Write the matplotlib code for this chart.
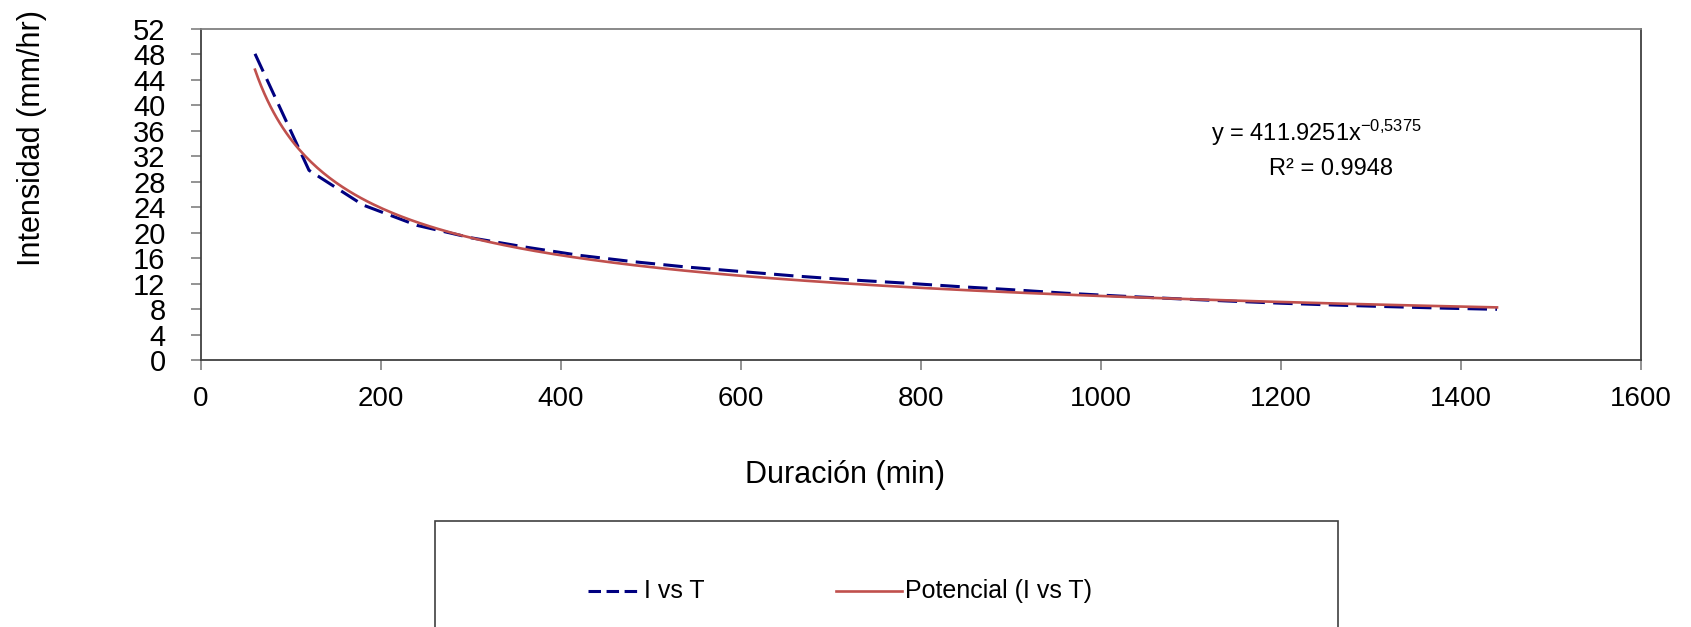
import matplotlib
matplotlib.use('Agg')
import matplotlib.pyplot as plt
from matplotlib.lines import Line2D
from matplotlib.patches import Rectangle
import numpy as np

plt.rcParams['font.family'] = ['Liberation Sans', 'DejaVu Sans']
plt.rcParams['lines.scale_dashes'] = False
plt.rcParams['mathtext.default'] = 'regular'

# Data: duration (min) vs intensity (mm/hr)
duracion = [60, 120, 180, 240, 300, 360, 420, 480, 540, 600, 660, 720,
            780, 840, 900, 960, 1020, 1080, 1140, 1200, 1260, 1320, 1380, 1440]
intensidad = [48.1, 29.8, 24.35, 21.15, 19.2, 17.75, 16.45, 15.45, 14.6, 13.9,
              13.2, 12.6, 12.1, 11.55, 11.05, 10.5, 10.05, 9.65, 9.27, 8.92,
              8.63, 8.38, 8.15, 7.96]

# power trendline as reported on the chart
trend_a = 411.9251
trend_b = -0.5375
r2 = 0.9948

x = np.array(duracion, dtype=float)
y = np.array(intensidad, dtype=float)
xt = np.linspace(x.min(), x.max(), 400)
yt = trend_a * xt**trend_b

W, H = 1691, 627
fig = plt.figure(figsize=(W/100, H/100), dpi=100)
ax = fig.add_axes([201/W, 1-360/H, 1440/W, 331/H])

ax.plot(x, y, color='#000080', lw=2.2, dashes=(14, 6))
ax.plot(xt, yt, color='#C0504D', lw=1.9)

ax.set_xlim(0, 1600)
ax.set_ylim(0, 52)
ax.set_xticks(np.arange(0, 1601, 200))
ax.set_yticks(np.arange(0, 53, 4))
ax.tick_params(length=7.5, color='#808080', width=1.2)
ax.tick_params(axis='y', pad=18, labelsize=21)
ax.tick_params(axis='x', pad=11, labelsize=20)
for s in ['left', 'bottom', 'right']:
    ax.spines[s].set_color('#404040')
    ax.spines[s].set_linewidth(1.3)
ax.spines['top'].set_color('#808080')
ax.spines['top'].set_linewidth(1.3)

fig.text(32/W, 1-138/H, 'Intensidad (mm/hr)', rotation=90, fontsize=22,
         ha='center', va='center')
fig.text(845/W, 1-475/H, 'Duración (min)', fontsize=22, ha='center', va='center')

b_txt = f'{trend_b:.4f}'.replace('.', '{,}')
eq_text = f'y = {trend_a:.4f}x$^{{{b_txt}}}$'
fig.text(1316/W, 1-133/H, eq_text, fontsize=17, ha='center', va='center')
fig.text(1331/W, 1-169/H, f'R² = {r2:.4f}', fontsize=17, ha='center', va='center')

# legend box (runs off the bottom edge like the original)
fig.add_artist(Rectangle((435/W, -0.05), 903/W, 0.05 + 1-521/H,
                         transform=fig.transFigure, fill=False,
                         edgecolor='#404040', lw=1.2))
ly = 1-591/H
fig.add_artist(Line2D([588/W, 638/W], [ly, ly], transform=fig.transFigure,
                      color='#000080', lw=2.2, dashes=(9, 4)))
fig.text(644/W, ly, 'I vs T', fontsize=18, va='center', ha='left')
fig.add_artist(Line2D([836/W, 902/W], [ly, ly], transform=fig.transFigure,
                      color='#C0504D', lw=1.9))
fig.text(905/W, ly, 'Potencial (I vs T)', fontsize=18, va='center', ha='left')

fig.savefig('out.png', dpi=100)
